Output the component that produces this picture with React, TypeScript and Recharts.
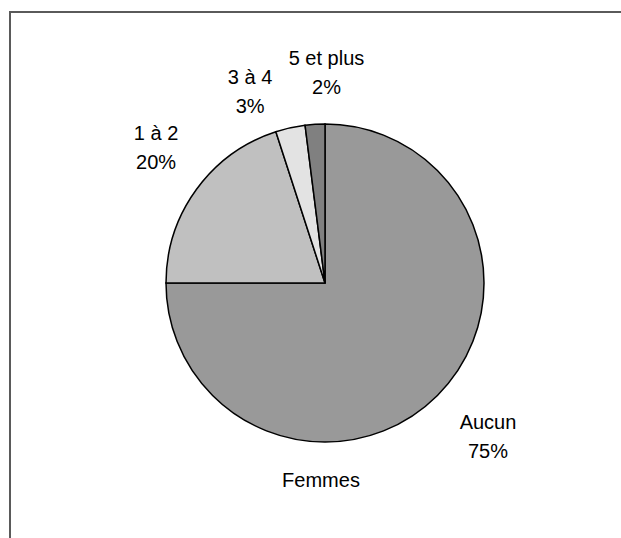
import { PieChart, Pie, Cell } from "recharts";

const categories = ["Aucun", "1 à 2", "3 à 4", "5 et plus"];
const femmes = [75, 20, 3, 2];
const colors = ["#999999", "#c0c0c0", "#e3e3e3", "#808080"];
// small nudges so the labels sit where the original put them
const labelNudge = [
  { dx: 11, dy: 2 },
  { dx: 5, dy: -9 },
  { dx: -28, dy: 19 },
  { dx: 15, dy: 5 },
];

const data = categories.map((name, i) => ({ name, value: femmes[i] }));
const RADIAN = Math.PI / 180;
const FONT = "'Liberation Sans', Arial, sans-serif";

const renderLabel = (props: any) => {
  const { cx, cy, midAngle, outerRadius, index, name, percent } = props;
  const r = outerRadius + 56;
  const x = cx + r * Math.cos(-midAngle * RADIAN) + labelNudge[index].dx;
  const y = cy + r * Math.sin(-midAngle * RADIAN) + labelNudge[index].dy;
  return (
    <text
      x={x}
      y={y}
      textAnchor="middle"
      fontFamily={FONT}
      fontSize={20}
      fill="#000"
    >
      <tspan x={x} y={y - 8}>
        {name}
      </tspan>
      <tspan x={x} y={y + 21}>
        {Math.round(percent * 100)}%
      </tspan>
    </text>
  );
};

export default function App() {
  return (
    <div
      style={{
        position: "absolute",
        left: 0,
        top: 0,
        width: 621,
        height: 538,
        background: "#fff",
        overflow: "hidden",
      }}
    >
      <div
        style={{
          position: "absolute",
          left: 9,
          top: 11,
          width: 620,
          height: 540,
          borderTop: "2px solid #5a5a5a",
          borderLeft: "2px solid #5a5a5a",
        }}
      />
      <div style={{ position: "absolute", left: 0, top: 0 }}>
        <PieChart width={621} height={538}>
          <Pie
            data={data}
            dataKey="value"
            nameKey="name"
            cx={320}
            cy={278}
            outerRadius={159}
            startAngle={90}
            endAngle={-270}
            stroke="#000"
            strokeWidth={1.5}
            label={renderLabel}
            labelLine={false}
            isAnimationActive={false}
          >
            {data.map((d, i) => (
              <Cell key={d.name} fill={colors[i]} />
            ))}
          </Pie>
        </PieChart>
      </div>
      <svg
        width={621}
        height={538}
        style={{ position: "absolute", left: 0, top: 0, pointerEvents: "none" }}
      >
        <text
          x={321}
          y={487}
          textAnchor="middle"
          fontFamily={FONT}
          fontSize={20}
          fill="#000"
        >
          Femmes
        </text>
      </svg>
    </div>
  );
}
